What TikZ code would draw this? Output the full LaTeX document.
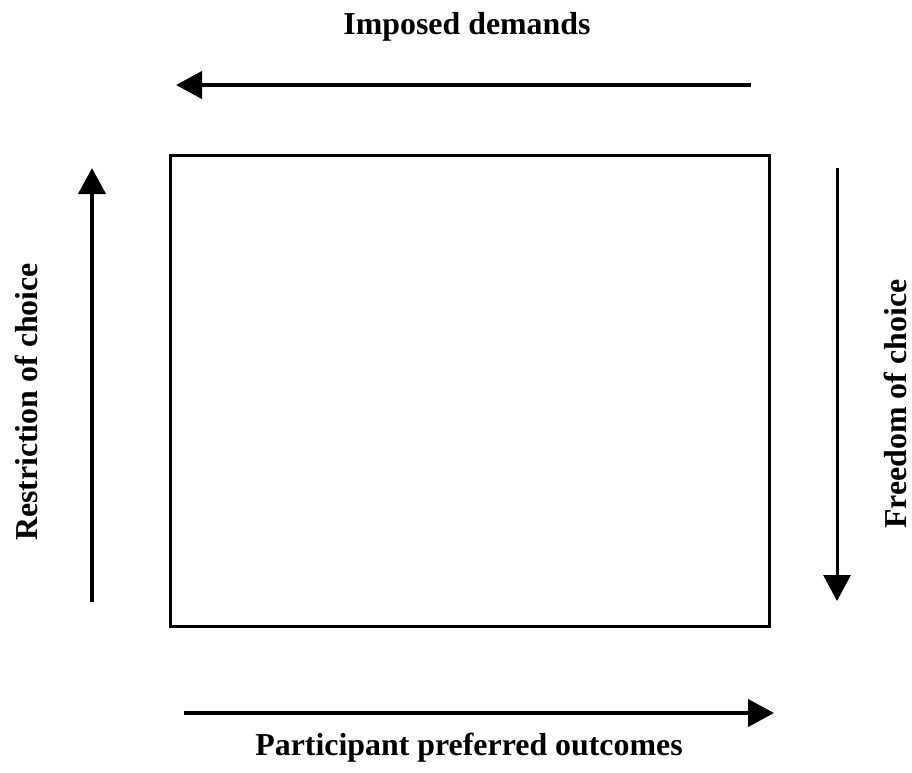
\documentclass[tikz,border=0pt]{standalone}
\usepackage{fontspec}
\setmainfont{Liberation Serif}
\usetikzlibrary{arrows.meta}
\begin{document}
\begin{tikzpicture}[x=1bp,y=-1bp,
  lbl/.style={font=\bfseries\fontsize{32}{38}\selectfont, inner sep=0pt},
  flow/.style={line width=4.2bp, -{Triangle[length=26bp,width=27bp]}},
  frame/.style={draw, line width=3.5bp}]
  \useasboundingbox (0,0) rectangle (912,773);
  % central box
  \node[frame, minimum width=599bp, minimum height=471bp, anchor=north west] (box) at (168.5,153.5) {};
  % arrow end points
  \coordinate (topS) at (751,85);
  \coordinate (topE) at (176,85);
  \coordinate (leftS) at (92,602);
  \coordinate (leftE) at (92,168);
  \coordinate (rightS) at (837,168);
  \coordinate (rightE) at (837,601);
  \coordinate (botS) at (184,713);
  \coordinate (botE) at (774,713);
  \draw[flow] (topS) -- (topE);
  \draw[flow] (leftS) -- (leftE);
  \draw[flow, line width=3bp] (rightS) -- (rightE);
  \draw[flow] (botS) -- (botE);
  % labels
  \node[lbl] (tl) at (467,27) {Imposed demands};
  \node[lbl] (bl) at (469,748) {Participant preferred outcomes};
  \node[lbl, rotate=90] (ll) at (26,402) {Restriction of choice};
  \node[lbl, rotate=90] (rl) at (895,404) {Freedom of choice};
\end{tikzpicture}
\end{document}
